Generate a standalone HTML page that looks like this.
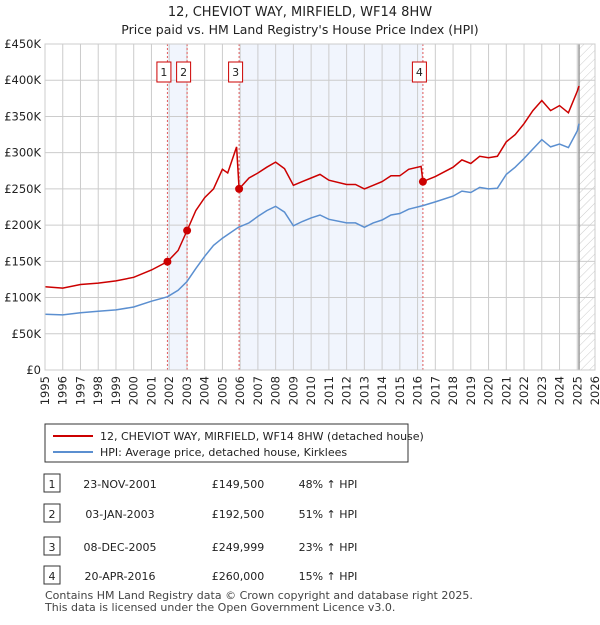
<!DOCTYPE html>
<html><head><meta charset="utf-8"><style>
body{margin:0;background:#fff;font-family:"Liberation Sans","DejaVu Sans",sans-serif;}
svg text{font-family:"DejaVu Sans","Liberation Sans",sans-serif;}
</style></head><body>
<svg width="600" height="620" xmlns="http://www.w3.org/2000/svg" id="svg">
<text x="300" y="16" text-anchor="middle" font-size="13" fill="#222">12, CHEVIOT WAY, MIRFIELD, WF14 8HW</text>
<text x="300" y="34" text-anchor="middle" font-size="12.5" fill="#222">Price paid vs. HM Land Registry's House Price Index (HPI)</text>
<g id="plot"></g>
<g>
<rect x="45" y="424" width="363" height="38" fill="#fff" stroke="#333"/>
<line x1="53" y1="436" x2="93" y2="436" stroke="#cc0000" stroke-width="2"/>
<text x="100" y="440" font-size="11" fill="#222">12, CHEVIOT WAY, MIRFIELD, WF14 8HW (detached house)</text>
<line x1="53" y1="452" x2="93" y2="452" stroke="#5b8fd0" stroke-width="2"/>
<text x="100" y="456" font-size="11" fill="#222">HPI: Average price, detached house, Kirklees</text>
</g>
<g id="table" font-size="11" fill="#222"></g>
<text x="45" y="599" font-size="11" fill="#444">Contains HM Land Registry data © Crown copyright and database right 2025.</text>
<text x="45" y="611" font-size="11" fill="#444">This data is licensed under the Open Government Licence v3.0.</text>
</svg>
<script>
const hpiYears=[1995,1996,1997,1998,1999,2000,2001,2001.9,2002.5,2003,2003.5,2004,2004.5,2005,2005.9,2006.5,2007,2007.5,2008,2008.5,2009,2009.5,2010,2010.5,2011,2012,2012.5,2013,2013.5,2014,2014.5,2015,2015.5,2016.3,2017,2018,2018.5,2019,2019.5,2020,2020.5,2021,2021.5,2022,2022.5,2023,2023.5,2024,2024.5,2025,2025.1];
const hpiValues=[77,76,79,81,83,87,95,101,110,122,140,157,172,182,197,203,212,220,226,218,199,205,210,214,208,203,203,197,203,207,214,216,222,227,232,240,247,245,252,250,251,270,280,292,305,318,308,312,307,330,340];
const priceYears=[1995,1996,1997,1998,1999,2000,2001,2001.9,2002.5,2003.01,2003.5,2004,2004.5,2005,2005.3,2005.8,2005.94,2006.5,2007,2007.5,2008,2008.5,2009,2009.5,2010,2010.5,2011,2012,2012.5,2013,2013.5,2014,2014.5,2015,2015.5,2016.2,2016.3,2017,2018,2018.5,2019,2019.5,2020,2020.5,2021,2021.5,2022,2022.5,2023,2023.5,2024,2024.5,2025,2025.1];
const priceValues=[115,113,118,120,123,128,138,149.5,165,192.5,220,238,250,277,272,308,250,265,272,280,287,278,255,260,265,270,262,256,256,250,255,260,268,268,277,281,260,267,280,290,285,295,293,295,315,325,340,358,372,358,365,355,385,392];
const saleLabels=["1","2","3","4"];
const saleYears=[2001.9,2003.01,2005.94,2016.3];
const saleValues=[149.5,192.5,250,260];
const saleDates=["23-NOV-2001","03-JAN-2003","08-DEC-2005","20-APR-2016"];
const salePrices=["£149,500","£192,500","£249,999","£260,000"];
const saleHpi=["48% ↑ HPI","51% ↑ HPI","23% ↑ HPI","15% ↑ HPI"];
const yTicks=[0,50,100,150,200,250,300,350,400,450];
const yTickLabels=["£0","£50K","£100K","£150K","£200K","£250K","£300K","£350K","£400K","£450K"];
const xTicks=[1995,1996,1997,1998,1999,2000,2001,2002,2003,2004,2005,2006,2007,2008,2009,2010,2011,2012,2013,2014,2015,2016,2017,2018,2019,2020,2021,2022,2023,2024,2025,2026];

const X0=45,X1=595,Y0=370,Y1=44;
const x=y=>X0+(y-1995)/(2026-1995)*(X1-X0);
const yv=v=>Y0-v/450*(Y0-Y1);
const NS="http://www.w3.org/2000/svg";
const plot=document.getElementById('plot');
function mk(tag,attrs,parent){const e=document.createElementNS(NS,tag);for(const k in attrs)e.setAttribute(k,attrs[k]);(parent||plot).appendChild(e);return e;}
let e;
e=mk('rect',{x:X0,y:Y1,width:X1-X0,height:Y0-Y1,fill:'#fff'});


[[0,1],[2,3]].forEach(p=>{
 e=mk('rect',{x:x(saleYears[p[0]]),y:Y1,width:x(saleYears[p[1]])-x(saleYears[p[0]]),height:Y0-Y1,fill:'#eef3fd',opacity:0.8});
 
 
});
const defs=mk('defs',{});
const pat=mk('pattern',{id:'hatch',width:6,height:6,patternUnits:'userSpaceOnUse',patternTransform:'rotate(45)'},defs);
mk('line',{x1:0,y1:0,x2:0,y2:6,stroke:'#ccc','stroke-width':1},pat);
e=mk('rect',{x:x(2025.1),y:Y1,width:X1-x(2025.1),height:Y0-Y1,fill:'url(#hatch)'});


xTicks.forEach(t=>{
 e=mk('line',{x1:x(t),x2:x(t),y1:Y1,y2:Y0,stroke:'#ccc'});
 
 
 const tx=x(t)+4, ty=Y0+6;
 e=mk('text',{x:tx,y:ty,'text-anchor':'end','font-size':11.5,fill:'#222',transform:`rotate(-90 ${tx} ${ty})`});
 e.textContent=t;
 
 
});
yTicks.forEach((t,i)=>{
 e=mk('line',{x1:X0,x2:X1,y1:yv(t),y2:yv(t),stroke:'#ccc'});
 
 
 e=mk('text',{x:X0-4,y:yv(t)+4,'text-anchor':'end','font-size':11.5,fill:'#222'});
 e.textContent=yTickLabels[i];
 
 
});
e=mk('line',{x1:x(2025.1),x2:x(2025.1),y1:Y1,y2:Y0,stroke:'#999','stroke-width':1.5});


function path(xs,vs){return xs.map((t,i)=>(i?'L':'M')+x(t).toFixed(1)+','+yv(vs[i]).toFixed(1)).join('');}
saleYears.forEach((t,i)=>{
 e=mk('line',{x1:x(t),x2:x(t),y1:Y1,y2:Y0,stroke:'#e05a5a','stroke-dasharray':'2,2','stroke-width':1});
 
 
});
e=mk('path',{d:path(hpiYears,hpiValues),fill:'none',stroke:'#5b8fd0','stroke-width':1.5});


e=mk('path',{d:path(priceYears,priceValues),fill:'none',stroke:'#cc0000','stroke-width':1.5});


saleYears.forEach((t,i)=>{
 e=mk('circle',{cx:x(t),cy:yv(saleValues[i]),r:4,fill:'#cc0000'});
 
 
 const bx=x(t)-3.5;
 e=mk('rect',{x:bx-7,y:62,width:14,height:20,fill:'#fff',stroke:'#cc0000'});
 
 
 e=mk('text',{x:bx,y:76,'text-anchor':'middle','font-size':11,fill:'#222'});
 e.textContent=saleLabels[i];
 
 
});
e=mk('rect',{x:X0,y:Y1,width:X1-X0,height:Y0-Y1,fill:'none',stroke:'#ccc'});
const tb=document.getElementById('table');
const rowsY=[484,514,547,576];
saleLabels.forEach((l,i)=>{
 const yy=rowsY[i];
 e=mk('rect',{x:44,y:yy-10,width:16,height:18,fill:'#fff',stroke:'#333'},tb);
 
 
 [[52,l,'middle'],[120,saleDates[i],'middle'],[238,salePrices[i],'middle'],[328,saleHpi[i],'middle']].forEach(c=>{
  e=mk('text',{x:c[0],y:yy+4,'text-anchor':c[2]},tb);
  e.textContent=c[1];
  
  
 });
});
</script>
</body></html>
